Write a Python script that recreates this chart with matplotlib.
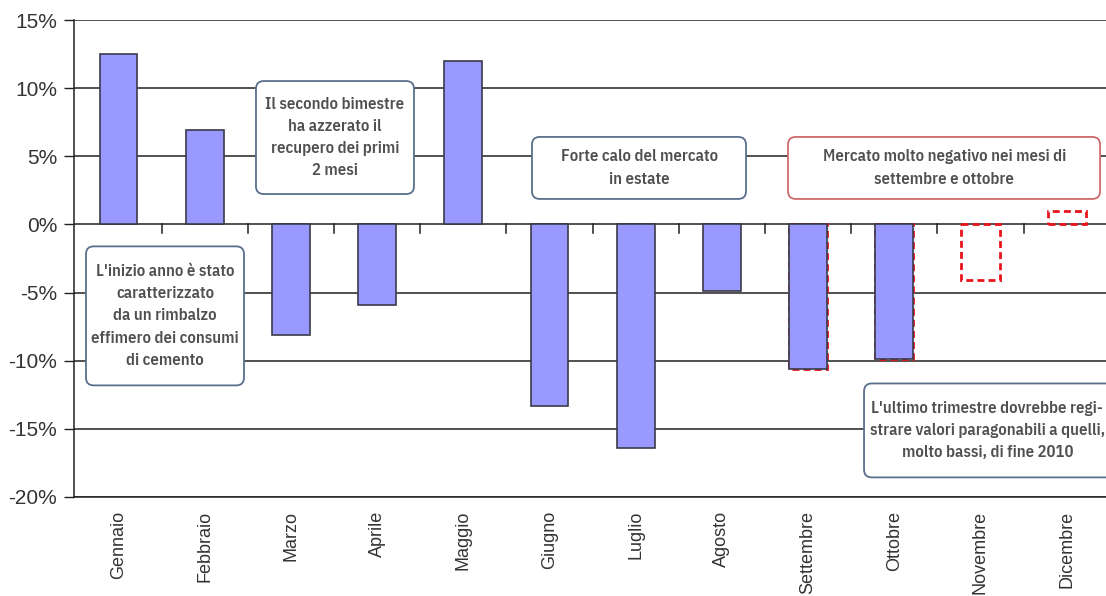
import matplotlib.pyplot as plt
import numpy as np
from matplotlib.patches import FancyBboxPatch

plt.rcParams['font.family'] = ['Liberation Sans', 'DejaVu Sans']
font_note = ['IBM Plex Sans Condensed', 'Open Sans Condensed', 'DejaVu Sans']

mesi = ['Gennaio', 'Febbraio', 'Marzo', 'Aprile', 'Maggio', 'Giugno',
        'Luglio', 'Agosto', 'Settembre', 'Ottobre', 'Novembre', 'Dicembre']
consuntivo = [12.5, 6.9, -8.1, -5.9, 12.0, -13.3, -16.4, -4.9, -10.6, -9.9, np.nan, np.nan]
previsione = [np.nan, np.nan, np.nan, np.nan, np.nan, np.nan, np.nan, np.nan, -10.6, -9.9, -4.1, 1.0]
y_ticks = [15, 10, 5, 0, -5, -10, -15, -20]

# testo, (x0, x1, y0, y1) del riquadro in unita' dati, centro x del testo, colore bordo
note = [
    ("L'inizio anno è stato\ncaratterizzato\nda un rimbalzo\neffimero dei consumi\ndi cemento",
     (-0.377, 1.456, -11.81, -1.61), 0.54, '#5a6f8c'),
    ("Il secondo bimestre\nha azzerato il\nrecupero dei primi\n2 mesi",
     (1.595, 3.428, 2.23, 10.52), 2.51, '#5a6f8c'),
    ("Forte calo del mercato\nin estate",
     (4.797, 7.280, 1.87, 6.42), 6.04, '#5a6f8c'),
    ("Mercato molto negativo nei mesi di\nsettembre e ottobre",
     (7.767, 11.387, 1.87, 6.42), 9.58, '#d06a6a'),
    ("L'ultimo trimestre dovrebbe regi-\nstrare valori paragonabili a quelli,\nmolto bassi, di fine 2010",
     (8.649, 11.95, -18.56, -11.67), 10.08, '#5a6f8c'),
]

W, H = 1106, 596
x_min, x_max = -0.516, 11.5
px_left, px_right = 74, 118.5 + 86.2 * 11.5
fig = plt.figure(figsize=(W / 100, H / 100), dpi=100)
ax = fig.add_axes([px_left / W, 1 - 497 / H, (px_right - px_left) / W, 477 / H])
x = np.arange(len(mesi))

# previsioni (tratteggio rosso) sotto le barre effettive
ax.bar(x, previsione, width=0.445, facecolor='none', edgecolor='#e8141c',
       linestyle=(0, (2.5, 1.5)), linewidth=2, zorder=2)
ax.bar(x, consuntivo, width=0.44, color='#9999ff', edgecolor='#3a3a4a',
       linewidth=1.2, zorder=3)

ax.set_xlim(x_min, x_max)
ax.set_ylim(-20, 15)
ax.set_yticks(y_ticks)
ax.set_yticklabels(['%d%%' % v for v in y_ticks], fontsize=15, color='#333333')
ax.yaxis.grid(True, color='#222222', linewidth=1.1)
ax.set_axisbelow(True)
ax.tick_params(axis='y', length=7, width=1, color='#222222', pad=5)

ax.set_xticks(x)
ax.set_xticklabels(mesi, rotation=90, fontsize=13, color='#333333', va='top')
ax.tick_params(axis='x', length=0, pad=10)

# tacche sull'asse dello zero tra un mese e l'altro
for b in x[:-1] + 0.5:
    ax.plot([b, b], [0, -0.6], color='#222222', linewidth=1.1, zorder=4)

for s in ['top', 'right']:
    ax.spines[s].set_visible(False)
for s in ['left', 'bottom']:
    ax.spines[s].set_color('#222222')
    ax.spines[s].set_linewidth(1.1)

# rapporto tra unita' y e unita' x, per angoli tondi
aspect = (35 / 477) / ((x_max - x_min) / (px_right - px_left))
for testo, (x0, x1, y0, y1), cx, bordo in note:
    box = FancyBboxPatch((x0, y0), x1 - x0, y1 - y0,
                         boxstyle='round,pad=0,rounding_size=0.09',
                         mutation_aspect=aspect, facecolor='white',
                         edgecolor=bordo, linewidth=1.3, zorder=6, clip_on=False)
    ax.add_patch(box)
    ax.text(cx, (y0 + y1) / 2, testo, ha='center', va='center',
            fontsize=12, color='#505050', weight=600, linespacing=1.6,
            family=font_note, zorder=7, clip_on=False)

fig.savefig('out.png', dpi=100)
